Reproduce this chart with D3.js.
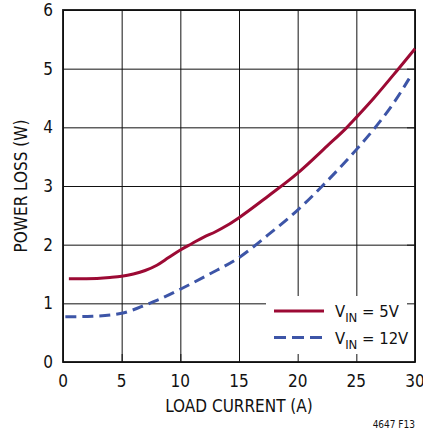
<!DOCTYPE html>
<html>
<head>
<meta charset="utf-8">
<script src="https://cdn.jsdelivr.net/npm/d3@7"></script>
<style>
  body { margin: 0; background: #fff; }
  text { font-family: "Liberation Sans Narrow", "DejaVu Sans Condensed", "Roboto Condensed", sans-serif; fill: #111; }
</style>
</head>
<body>
<div id="chart"></div>
<script>
// Power loss vs load current, two input voltages
var xTicks = [0, 5, 10, 15, 20, 25, 30];
var yTicks = [0, 1, 2, 3, 4, 5, 6];

var vin5Current = [0.5, 2, 4, 5, 6, 7, 8, 9, 10, 11, 12, 13, 14, 15, 17.5, 20, 22.5, 24.2, 25, 26.5, 28.6, 30];
var vin5Loss    = [1.42, 1.42, 1.44, 1.46, 1.5, 1.56, 1.65, 1.78, 1.91, 2.02, 2.13, 2.22, 2.33, 2.46, 2.83, 3.22, 3.68, 4.0, 4.17, 4.5, 5.0, 5.34];

var vin12Current = [0.2, 2.5, 5, 6, 7, 8, 10, 12.5, 15, 17.5, 20, 22.1, 25, 26.7, 28.3, 29.5];
var vin12Loss    = [0.77, 0.78, 0.83, 0.89, 0.97, 1.05, 1.24, 1.5, 1.78, 2.17, 2.59, 3.0, 3.62, 4.02, 4.45, 4.83];

var svgWidth = 423;
var svgHeight = 439;

var plot = { left: 63, top: 10, right: 415, bottom: 362 };

var svg = d3.select("#chart")
  .append("svg")
  .attr("width", svgWidth)
  .attr("height", svgHeight);

var xScale = d3.scaleLinear().domain([0, 30]).range([plot.left, plot.right]);
var yScale = d3.scaleLinear().domain([0, 6]).range([plot.bottom, plot.top]);

// grid
svg.append("g")
  .attr("transform", `translate(0, ${plot.bottom})`)
  .call(d3.axisBottom(xScale).tickValues(xTicks).tickSize(-(plot.bottom - plot.top)).tickFormat(""))
  .call(g => g.select(".domain").remove())
  .call(g => g.selectAll("line").attr("stroke", "#111").attr("stroke-width", 1));

svg.append("g")
  .attr("transform", `translate(${plot.left}, 0)`)
  .call(d3.axisLeft(yScale).tickValues(yTicks).tickSize(-(plot.right - plot.left)).tickFormat(""))
  .call(g => g.select(".domain").remove())
  .call(g => g.selectAll("line").attr("stroke", "#111").attr("stroke-width", 1));

// legend background hides the grid
var legend = { x: 266, y: 296 };
svg.append("rect")
  .attr("x", legend.x)
  .attr("y", legend.y)
  .attr("width", plot.right - legend.x)
  .attr("height", plot.bottom - legend.y)
  .attr("fill", "#fff");

// short inner ticks along bottom and right edges
svg.append("g")
  .attr("transform", `translate(0, ${plot.bottom})`)
  .call(d3.axisBottom(xScale).tickValues(xTicks).tickSize(-8).tickFormat(""))
  .call(g => g.select(".domain").remove())
  .call(g => g.selectAll("line").attr("stroke", "#111"));

svg.append("g")
  .attr("transform", `translate(${plot.right}, 0)`)
  .call(d3.axisRight(yScale).tickValues(yTicks).tickSize(-8).tickFormat(""))
  .call(g => g.select(".domain").remove())
  .call(g => g.selectAll("line").attr("stroke", "#111"));

// frame
svg.append("rect")
  .attr("x", plot.left)
  .attr("y", plot.top)
  .attr("width", plot.right - plot.left)
  .attr("height", plot.bottom - plot.top)
  .attr("fill", "none")
  .attr("stroke", "#111")
  .attr("stroke-width", 1.8);

// tick labels
svg.append("g").selectAll("text")
  .data(xTicks)
  .enter()
  .append("text")
  .attr("x", d => xScale(d))
  .attr("y", 387)
  .attr("text-anchor", "middle")
  .attr("font-size", 17)
  .text(d => d);

svg.append("g").selectAll("text")
  .data(yTicks)
  .enter()
  .append("text")
  .attr("x", 53)
  .attr("y", d => yScale(d) + 6)
  .attr("text-anchor", "end")
  .attr("font-size", 17)
  .text(d => d);

// axis titles
svg.append("text")
  .attr("x", (plot.left + plot.right) / 2)
  .attr("y", 412)
  .attr("text-anchor", "middle")
  .attr("font-size", 17)
  .text("LOAD CURRENT (A)");

svg.append("text")
  .attr("transform", `translate(27, ${(plot.top + plot.bottom) / 2}) rotate(-90)`)
  .attr("text-anchor", "middle")
  .attr("font-size", 17)
  .text("POWER LOSS (W)");

svg.append("text")
  .attr("x", 415)
  .attr("y", 428)
  .attr("text-anchor", "end")
  .attr("font-size", 10)
  .text("4647 F13");

// curves
var line = d3.line()
  .x(d => xScale(d[0]))
  .y(d => yScale(d[1]))
  .curve(d3.curveMonotoneX);

var red = "#9c0a34";
var blue = "#3d55a7";

svg.append("path")
  .datum(d3.zip(vin5Current, vin5Loss))
  .attr("d", line)
  .attr("fill", "none")
  .attr("stroke", red)
  .attr("stroke-width", 3);

svg.append("path")
  .datum(d3.zip(vin12Current, vin12Loss))
  .attr("d", line)
  .attr("fill", "none")
  .attr("stroke", blue)
  .attr("stroke-width", 3)
  .attr("stroke-dasharray", "11,6");

// legend entries
var entries = [
  { color: red, dash: null, y: 311, value: "5V" },
  { color: blue, dash: "12,6", y: 337.5, value: "12V" }
];

entries.forEach(function(e) {
  svg.append("line")
    .attr("x1", 274)
    .attr("x2", 324)
    .attr("y1", e.y)
    .attr("y2", e.y)
    .attr("stroke", e.color)
    .attr("stroke-width", 3)
    .attr("stroke-dasharray", e.dash);

  var t = svg.append("text")
    .attr("x", 335)
    .attr("y", e.y + 6)
    .attr("font-size", 16.5);
  t.append("tspan").text("V");
  t.append("tspan").attr("dy", 5).attr("font-size", 13).text("IN");
  t.append("tspan").attr("dy", -5).text(" = " + e.value);
});
</script>
</body>
</html>
